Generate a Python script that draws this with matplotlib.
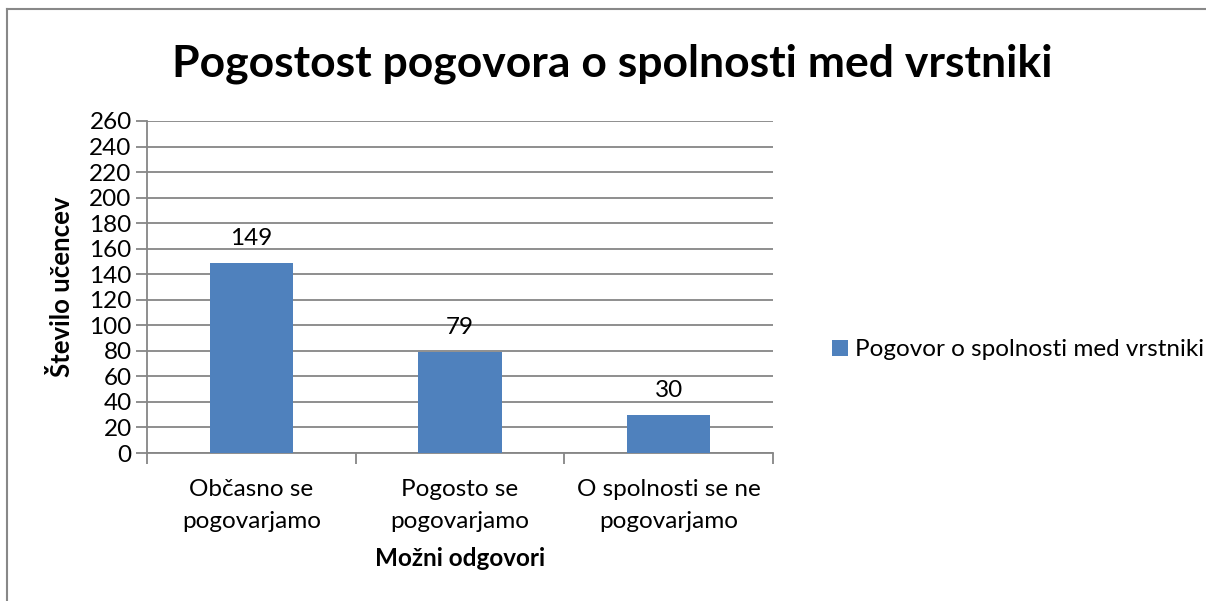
import matplotlib
matplotlib.use("Agg")
import matplotlib.pyplot as plt
from matplotlib.lines import Line2D
import numpy as np

# data
categories = ["Občasno se\npogovarjamo", "Pogosto se\npogovarjamo", "O spolnosti se ne\npogovarjamo"]
values = [149, 79, 30]
series_name = "Pogovor o spolnosti med vrstniki"
title = "Pogostost pogovora o spolnosti med vrstniki"
ylabel = "Število učencev"
xlabel = "Možni odgovori"
yticks = list(range(0, 261, 20))

plt.rcParams['font.family'] = ['Lato', 'DejaVu Sans']

bar_col = "#4F81BD"
grid_col = "#868686"
fs = 17.5

fig = plt.figure(figsize=(12.06, 6.01), dpi=100)
ax = fig.add_axes([147/1206, 1-453/601, (773-147)/1206, (453-121)/601])

x = np.arange(len(categories))
bars = ax.bar(x, values, width=0.4, color=bar_col, label=series_name, zorder=3)

ax.set_xlim(-0.5, len(categories) - 0.5)
ax.set_ylim(0, 260)
ax.set_yticks(yticks)
ax.set_yticklabels([str(t) for t in yticks], fontsize=fs)
ax.yaxis.grid(True, color=grid_col, linewidth=1.3, zorder=0)
ax.tick_params(axis='y', length=8, width=1.3, color=grid_col, pad=3)

# category ticks at boundaries
ax.set_xticks(np.arange(-0.5, len(categories), 1.0))
ax.set_xticklabels([])
ax.set_xticks(x, minor=True)
ax.set_xticklabels(categories, minor=True, fontsize=fs, linespacing=1.6)
ax.tick_params(axis='x', which='major', length=8, width=1.3, color=grid_col, direction='out')
ax.tick_params(axis='x', which='minor', length=0, pad=19)

for s in ['top', 'right']:
    ax.spines[s].set_visible(False)
for s in ['left', 'bottom']:
    ax.spines[s].set_color(grid_col)
    ax.spines[s].set_linewidth(1.3)

for xi, v in zip(x, values):
    ax.annotate(str(v), (xi, v), xytext=(0, 10), textcoords='offset points',
                ha='center', va='bottom', fontsize=fs)

ax.set_ylabel(ylabel, fontsize=18.5, fontweight='bold', labelpad=11)
ax.set_xlabel(xlabel, fontsize=17.5, fontweight='bold', labelpad=11)

fig.text(612/1206, 1-64/601, title, fontsize=32, fontweight='bold', ha='center', va='center')

fig.legend(handles=[bars], labels=[series_name], loc='center left',
           bbox_to_anchor=(810/1206, 1-350/601), frameon=False, fontsize=fs,
           handlelength=0.65, handleheight=0.65, handletextpad=0.3)

# outer chart border (partially cut off)
fig.add_artist(Line2D([7/1206, 7/1206], [0, 1-9/601], transform=fig.transFigure, color="#888888", lw=1.5))
fig.add_artist(Line2D([7/1206, 1], [1-9/601, 1-9/601], transform=fig.transFigure, color="#888888", lw=1.5))

fig.savefig("out.png", dpi=100)
